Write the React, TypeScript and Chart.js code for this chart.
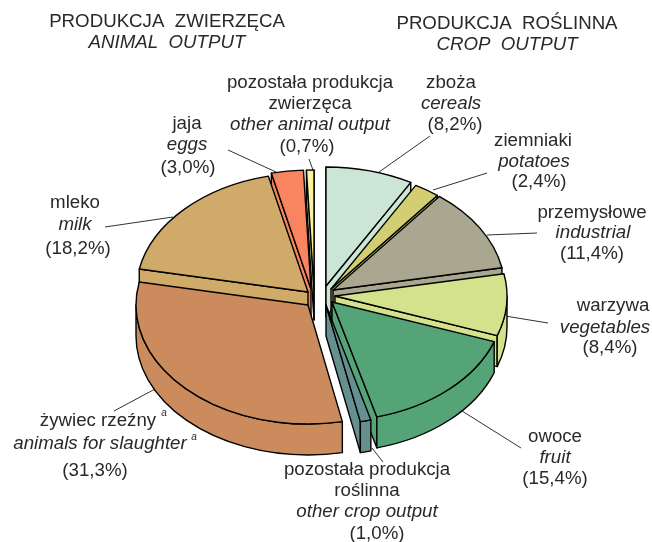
import React, { useEffect, useRef } from "react";
import { Chart, registerables } from "chart.js";

Chart.register(...registerables);

const categories = [
  "zboża / cereals", "ziemniaki / potatoes", "przemysłowe / industrial", "warzywa / vegetables",
  "owoce / fruit", "pozostała produkcja roślinna / other crop output",
  "żywiec rzeźny / animals for slaughter", "mleko / milk", "jaja / eggs",
  "pozostała produkcja zwierzęca / other animal output",
];
const shares = [8.2, 2.4, 11.4, 8.4, 15.4, 1.0, 31.3, 18.2, 3.0, 0.7];
const colors = ["#CCE6D6", "#D3CE72", "#A9A78F", "#D3E28B", "#55A478", "#66908F", "#CB8B5D", "#D0AA68", "#F88560", "#FBF2A0"];

// apex of every exploded slice on the page
const apexX = [326, 331, 333, 335, 332, 326, 308, 308, 311, 314];
const apexY = [286, 289, 290, 296, 302, 305, 305, 292, 289, 289];
const paintOrder = [9, 8, 7, 6, 0, 1, 2, 3, 4, 5];
const SQUASH = 0.692;
const DEPTH = 31;
const RADIUS = 172;
const INK = "#2b2829";

type T = [string, number, number, boolean?, number?];
const texts: T[] = [
  ["PRODUKCJA  ZWIERZĘCA", 167, 27], ["ANIMAL  OUTPUT", 167, 48, true],
  ["PRODUKCJA  ROŚLINNA", 507, 29], ["CROP  OUTPUT", 507, 50, true],
  ["pozostała produkcja", 310, 88], ["zwierzęca", 310, 109], ["other animal output", 310, 130, true], ["(0,7%)", 307, 152],
  ["zboża", 451, 88], ["cereals", 451, 109, true], ["(8,2%)", 455, 130],
  ["ziemniaki", 533, 146], ["potatoes", 534, 167, true], ["(2,4%)", 539, 187],
  ["jaja", 187, 129], ["eggs", 187, 150, true], ["(3,0%)", 188, 173],
  ["mleko", 75, 208], ["milk", 75, 230, true], ["(18,2%)", 78, 254],
  ["przemysłowe", 592, 218], ["industrial", 593, 238, true], ["(11,4%)", 592, 259],
  ["warzywa", 613, 311], ["vegetables", 605, 333, true], ["(8,4%)", 610, 353],
  ["owoce", 555, 442], ["fruit", 555, 463, true], ["(15,4%)", 555, 484],
  ["żywiec rzeźny", 98, 426], ["animals for slaughter", 100, 449, true], ["(31,3%)", 95, 476],
  ["pozostała produkcja", 367, 475], ["roślinna", 367, 496], ["other crop output", 367, 517, true], ["(1,0%)", 377, 539],
];
const superscripts: [number, number][] = [[164, 416], [194, 440]];
const leaders: [number, number, number, number][] = [
  [379, 172, 430, 136], [433, 190, 487, 173], [487, 235, 537, 233], [505, 316, 548, 323],
  [462, 411, 521, 448], [372, 448, 383, 462], [155, 389, 114, 411], [173, 217, 105, 227],
  [228, 150, 276, 172], [309, 159, 313, 170],
];

const pie3d = {
  id: "pie3d",
  beforeDatasetDraw(chart: any) {
    const { ctx } = chart;
    const arcs = chart.getDatasetMeta(0).data;
    ctx.save();
    ctx.lineJoin = "round";

    ctx.beginPath();
    ctx.strokeStyle = "#333";
    ctx.lineWidth = 1;
    for (const [a, b, c, d] of leaders) { ctx.moveTo(a, b); ctx.lineTo(c, d); }
    ctx.stroke();
    ctx.strokeStyle = "#000";
    ctx.lineWidth = 1.4;

    for (const i of paintOrder) {
      const el = arcs[i];
      const { x, y, startAngle, endAngle, outerRadius: r } = el.getProps(["x", "y", "startAngle", "endAngle", "outerRadius"], true);
      const ax = apexX[i], ay = apexY[i], k = SQUASH;
      const pt = (t: number, dz = 0): [number, number] => [ax + r * Math.cos(t), ay + k * r * Math.sin(t) + dz];
      ctx.fillStyle = colors[i];

      const quad = (t: number) => {
        const p = pt(t), q = pt(t, DEPTH);
        ctx.beginPath();
        ctx.moveTo(ax, ay); ctx.lineTo(p[0], p[1]); ctx.lineTo(q[0], q[1]); ctx.lineTo(ax, ay + DEPTH);
        ctx.closePath(); ctx.fill(); ctx.stroke();
      };
      // a cut face shows only when it turns towards the viewer
      if (Math.cos(startAngle) < 0.01) quad(startAngle);
      if (Math.cos(endAngle) > -0.01) quad(endAngle);

      // outer wall, only the part that faces the viewer
      const from = Math.max(startAngle, 0), to = Math.min(endAngle, Math.PI);
      if (to > from) {
        ctx.beginPath();
        ctx.ellipse(ax, ay, r, k * r, 0, from, to);
        ctx.ellipse(ax, ay + DEPTH, r, k * r, 0, to, from, true);
        ctx.closePath(); ctx.fill(); ctx.stroke();
      }

      // top face: the library's arc, squashed and moved to its apex
      ctx.save();
      ctx.translate(ax, ay); ctx.scale(1, k); ctx.translate(-x, -y);
      el.draw(ctx);
      ctx.restore();
      ctx.beginPath();
      ctx.moveTo(ax, ay);
      ctx.ellipse(ax, ay, r, k * r, 0, startAngle, endAngle);
      ctx.closePath(); ctx.stroke();
    }
    ctx.restore();
    return false;
  },
  afterDraw(chart: any) {
    const { ctx } = chart;
    ctx.save();
    ctx.fillStyle = INK;
    ctx.textAlign = "center";
    ctx.textBaseline = "alphabetic";
    for (const [s, x, y, it] of texts) {
      ctx.font = `${it ? "italic " : ""}18.7px "Liberation Sans", Arial, sans-serif`;
      ctx.fillText(s, x, y);
    }
    ctx.font = 'italic 10px "Liberation Sans", Arial, sans-serif';
    for (const [x, y] of superscripts) ctx.fillText("a", x, y);
    ctx.restore();
  },
};

export default function App() {
  const ref = useRef<HTMLCanvasElement>(null);
  useEffect(() => {
    document.body.style.margin = "0";
    const chart = new Chart(ref.current!, {
      type: "pie",
      data: {
        labels: categories,
        datasets: [{ data: shares, backgroundColor: colors, borderWidth: 0, radius: RADIUS } as any],
      },
      options: {
        responsive: false,
        animation: false,
        layout: { padding: 0 },
        plugins: { legend: { display: false }, tooltip: { enabled: false } },
      },
      plugins: [pie3d as any],
    });
    return () => chart.destroy();
  }, []);
  return <canvas ref={ref} width={652} height={542} style={{ display: "block", background: "#fff" }} />;
}
